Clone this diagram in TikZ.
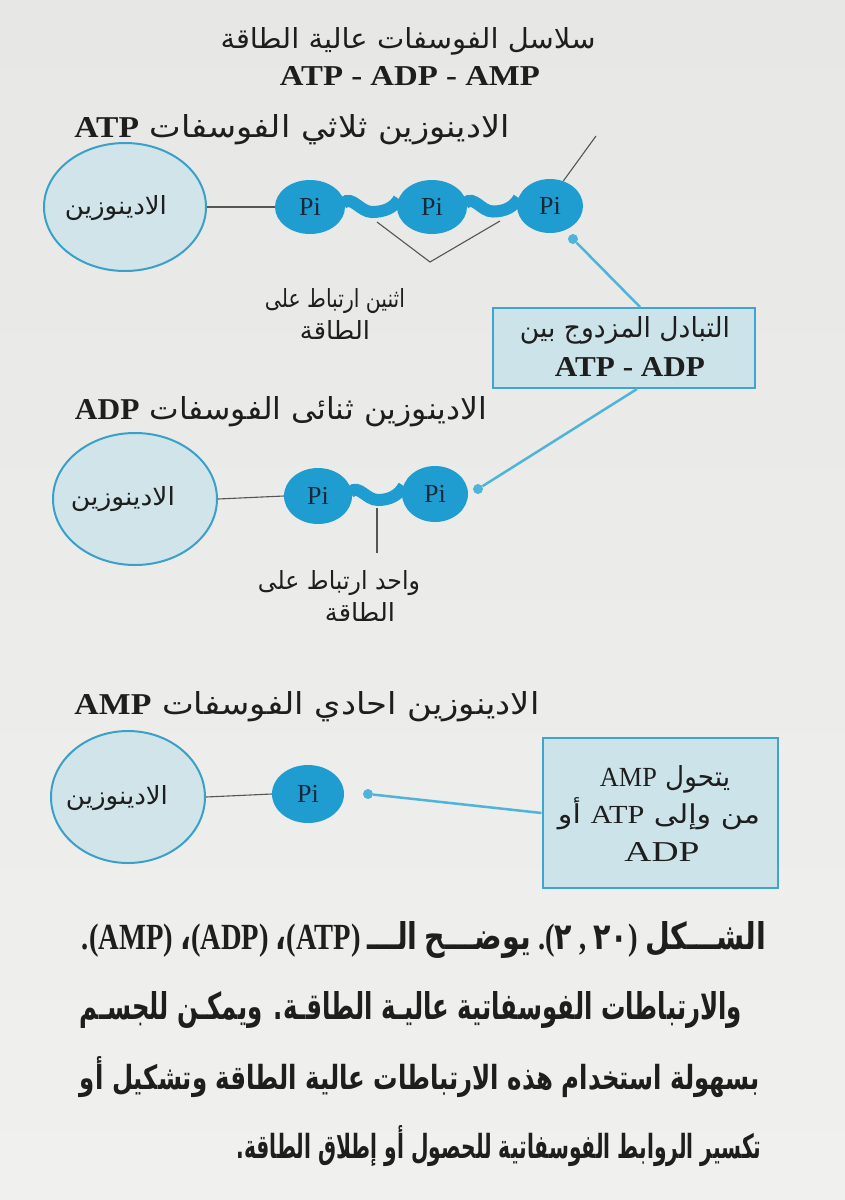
\documentclass[tikz,border=0pt]{standalone}
\usepackage{fontspec}
\setmainfont{Liberation Serif}
\newfontfamily\ar[Script=Arabic]{DejaVu Sans}
\TeXXeTstate=1
\usepackage{graphicx}
\usetikzlibrary{calc,shapes.geometric}
\definecolor{bgtop}{HTML}{E7E7E5}
\definecolor{bgbot}{HTML}{F0F0EE}
\definecolor{pifill}{HTML}{1F9DD1}
\definecolor{bigfill}{HTML}{D0E4EA}
\definecolor{bigline}{HTML}{3AA0C8}
\definecolor{boxfill}{HTML}{CCE3EA}
\definecolor{boxline}{HTML}{3DA5CE}
\definecolor{conn}{HTML}{4FB4DA}
\definecolor{ink}{HTML}{1E1E1E}
\definecolor{piink}{HTML}{16283A}
\definecolor{grayline}{HTML}{555555}
\newcommand{\fitto}[3]{\resizebox{#1pt}{#2pt}{#3}}
\newcommand{\RL}[1]{\beginR #1\endR}
\newcommand{\lat}[1]{{\rmfamily\bfseries #1}}
\begin{document}
\begin{tikzpicture}[x=1pt,y=-1pt,
  txt/.style={inner sep=0pt, anchor=base, text=ink},
  bigell/.style={ellipse, draw=bigline, fill=bigfill, line width=2pt, inner sep=0pt},
  pinode/.style={ellipse, fill=pifill, inner sep=0pt, text=piink, font=\fontsize{26}{26}\selectfont},
  wavy/.style={draw=pifill, line width=12pt},
  thinline/.style={draw=grayline, line width=1.1pt},
  blueline/.style={draw=conn, line width=2.5pt},
  dotnode/.style={circle, fill=conn, minimum size=10pt, inner sep=0pt},
  infobox/.style={rectangle, draw=boxline, fill=boxfill, line width=2pt, inner sep=0pt}]

\useasboundingbox (0,0) rectangle (845,1200);
\shade[top color=bgtop, bottom color=bgbot] (0,0) rectangle (845,1200);

% Title
\node[txt] (t1) at (408,48) {\fitto{375}{21}{\ar\RL{سلاسل الفوسفات عالية الطاقة}}};
\node[txt] (t2) at (410,85) {\fitto{260}{19}{\bfseries ATP - ADP - AMP}};

% ---------- ATP ----------
\node[txt] (h1) at (292,137) {\fitto{435}{23}{\ar\RL{الادينوزين ثلاثي الفوسفات \lat{ATP}}}};
\node[bigell, minimum width=162pt, minimum height=128pt] (E1) at (125,207) {};
\node[txt] (E1t) at (116,214) {\fitto{102}{19}{\ar الادينوزين}};
\node[pinode, minimum width=70pt, minimum height=54pt] (P1a) at (310,207) {Pi};
\node[pinode, minimum width=70pt, minimum height=54pt] (P1b) at (432,207) {Pi};
\node[pinode, minimum width=66pt, minimum height=54pt] (P1c) at (550,206) {Pi};
\draw[thinline] (E1.east) -- (P1a.west);
\draw[wavy] ($(P1a.east)+(-2,-4)$) .. controls +(9,-8) and +(-12,0) .. ($(P1a.east)!0.5!(P1b.west)+(1,5)$) .. controls +(12,0) and +(-5,9) .. ($(P1b.west)+(2,-8)$);
\draw[wavy] ($(P1b.east)+(-2,-4)$) .. controls +(9,-8) and +(-12,0) .. ($(P1b.east)!0.5!(P1c.west)+(1,5)$) .. controls +(12,0) and +(-5,9) .. ($(P1c.west)+(2,-8)$);
\coordinate (v1s) at (377,222);
\coordinate (v1t) at (430,262);
\coordinate (v1e) at (500,221);
\draw[thinline] (v1s) -- (v1t) -- (v1e);
\coordinate (dg) at (596,136);
\draw[thinline] (P1c.62) -- (dg);
\node[txt] (L1a) at (335,307) {\fitto{140}{19}{\ar\RL{اثنين ارتباط على}}};
\node[txt] (L1b) at (335,339) {\fitto{70}{19}{\ar الطاقة}};

% exchange box
\node[infobox, minimum width=262pt, minimum height=80pt] (B1) at (624,348) {};
\node[txt] (B1a) at (625,337) {\fitto{210}{21}{\ar\RL{التبادل المزدوج بين}}};
\node[txt] (B1b) at (630,376) {\fitto{150}{19}{\bfseries ATP - ADP}};
\node[dotnode] (D1) at (573,239) {};
\draw[blueline] (D1) -- ($(B1.north)+(16,0)$);

% ---------- ADP ----------
\node[txt] (h2) at (281,419) {\fitto{412}{23}{\ar\RL{الادينوزين ثنائى الفوسفات \lat{ADP}}}};
\node[bigell, minimum width=164pt, minimum height=132pt] (E2) at (135,499) {};
\node[txt] (E2t) at (123,505) {\fitto{104}{19}{\ar الادينوزين}};
\node[pinode, minimum width=68pt, minimum height=56pt] (P2a) at (318,496) {Pi};
\node[pinode, minimum width=66pt, minimum height=56pt] (P2b) at (435,494) {Pi};
\draw[thinline] (E2.east) -- (P2a.west);
\draw[wavy] ($(P2a.east)+(-2,-4)$) .. controls +(9,-8) and +(-12,0) .. ($(P2a.east)!0.5!(P2b.west)+(1,5)$) .. controls +(12,0) and +(-5,9) .. ($(P2b.west)+(2,-8)$);
\coordinate (v2s) at (377,508);
\coordinate (v2e) at (377,553);
\draw[thinline] (v2s) -- (v2e);
\node[txt] (L2a) at (339,589) {\fitto{162}{19}{\ar\RL{واحد ارتباط على}}};
\node[txt] (L2b) at (360,621) {\fitto{70}{19}{\ar الطاقة}};
\node[dotnode] (D2) at (478,489) {};
\draw[blueline] ($(B1.south)+(13,0)$) -- (D2);

% ---------- AMP ----------
\node[txt] (h3) at (307,714) {\fitto{465}{23}{\ar\RL{الادينوزين احادي الفوسفات \lat{AMP}}}};
\node[bigell, minimum width=154pt, minimum height=132pt] (E3) at (128,797) {};
\node[txt] (E3t) at (117,804) {\fitto{102}{19}{\ar الادينوزين}};
\node[pinode, minimum width=72pt, minimum height=58pt] (P3) at (308,794) {Pi};
\draw[thinline] (E3.east) -- (P3.west);
\node[infobox, minimum width=235pt, minimum height=150pt] (B2) at (660,813) {};
\node[txt] (B2a) at (665,786) {\fitto{130}{21}{\ar\RL{يتحول {\rmfamily AMP}}}};
\node[txt] (B2b) at (659,823) {\fitto{202}{26}{\ar\RL{من وإلى {\rmfamily ATP} أو}}};
\node[txt] (B2c) at (662,861) {\fitto{75}{19}{ADP}};
\node[dotnode] (D3) at (368,794) {};
\draw[blueline] (D3) -- (B2.west);

% ---------- caption ----------
\node[txt] (C1) at (424,949) {\fitto{684}{28}{\bfseries .(AMP) {\ar ،}(ADP) {\ar ،}(ATP) {\ar الـــ} {\ar يوضـــح} .({\ar ٢} , {\ar ٢٠}) {\ar الشـــكل}}};
\node[txt] (C2) at (411,1019) {\fitto{662}{28}{\ar\bfseries\RL{والارتباطات الفوسفاتية عاليـة الطاقـة. ويمكـن للجسـم}}};
\node[txt] (C3) at (420,1089) {\fitto{680}{33}{\ar\bfseries\RL{بسهولة استخدام هذه الارتباطات عالية الطاقة وتشكيل أو}}};
\node[txt] (C4) at (499,1158) {\fitto{525}{33}{\ar\bfseries\RL{تكسير الروابط الفوسفاتية للحصول أو إطلاق الطاقة.}}};
\end{tikzpicture}
\end{document}
